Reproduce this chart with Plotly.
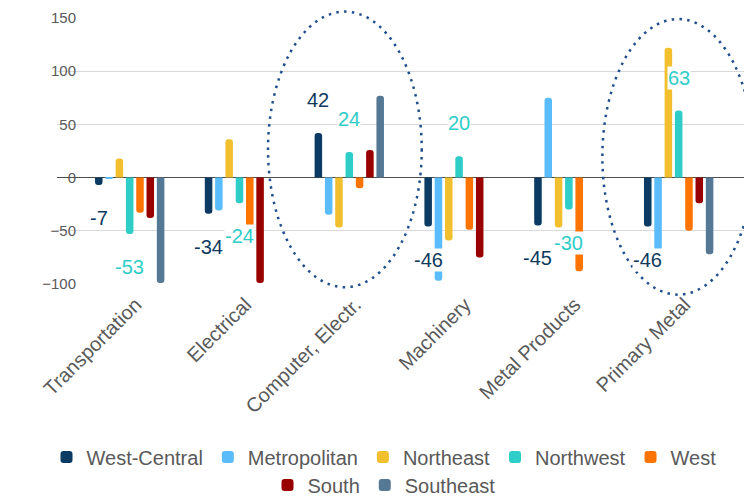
import plotly.graph_objects as go

# ---- data -------------------------------------------------------------
categories = ["Transportation", "Electrical", "Computer, Electr.",
              "Machinery", "Metal Products", "Primary Metal"]
regions = ["West-Central", "Metropolitan", "Northeast", "Northwest",
           "West", "South", "Southeast"]

west_central = [-7, -34, 42, -46, -45, -46]
metropolitan = [-1, -31, -35, -97, 75, -68]
northeast = [18, 36, -47, -59, -47, 122]
northwest = [-53, -24, 24, 20, -30, 63]
west = [-33, -62, -10, -49, -88, -50]
south = [-38, -99, 26, -75, None, -24]
southeast = [-99, None, 77, None, None, -72]

series = [west_central, metropolitan, northeast, northwest, west, south, southeast]

y_ticks = [-100, -50, 0, 50, 100, 150]

# series whose values are written next to the bars
labelled = ["West-Central", "Northwest"]
# categories circled with a dotted ellipse
highlighted = ["Computer, Electr.", "Primary Metal"]

# ---- styling ----------------------------------------------------------
colors = ["#0b3a62", "#5bbcfb", "#f2c02f", "#2ecdc8", "#ff7300", "#990000", "#557894"]
label_colors = {"West-Central": "#0e3a5e", "Northwest": "#2ecdc8"}
grey_text = "#595959"
font_family = "Liberation Sans, Arial, sans-serif"

W, H = 744, 496
margin = dict(l=57, r=0, t=18, b=212)
x_range = [-0.662, 5.595]
y_range = [-100, 150]
bargap = 0.343
bargroupgap = 0.27

# ellipse geometry: centre offset / half width in category units, extent in value units
ellipse_spec = {
    "Computer, Electr.": dict(dx=-0.04, half=0.70, top=156, bottom=-103),
    "Primary Metal": dict(dx=-0.005, half=0.69, top=149, bottom=-110),
}


def x_paper(v):
    return (v - x_range[0]) / (x_range[1] - x_range[0])


def y_paper(v):
    return (v - y_range[0]) / (y_range[1] - y_range[0])


fig = go.Figure()

for k, (name, vals, col) in enumerate(zip(regions, series, colors)):
    fig.add_trace(go.Bar(
        x=categories, y=vals, name=name,
        marker=dict(color=col, cornerradius=4, line=dict(width=0)),
        legend="legend" if k < 5 else "legend2",
        hoverinfo="skip",
    ))

# value labels, placed on their own bar inside each group
n = len(regions)
slot = (1 - bargap) / n
annotations = []
for name in labelled:
    k = regions.index(name)
    vals = series[k]
    for i, v in enumerate(vals):
        if v is None:
            continue
        annotations.append(dict(
            x=i + (k - (n - 1) / 2) * slot, y=v, xref="x", yref="y",
            text=str(v), showarrow=False,
            yshift=33 if v > 0 else -33,
            font=dict(size=20, color=label_colors[name], family=font_family),
            bgcolor="white", borderpad=0,
        ))

shapes = []
for cat in highlighted:
    spec = ellipse_spec[cat]
    c = categories.index(cat) + spec["dx"]
    shapes.append(dict(
        type="circle", xref="paper", yref="paper",
        x0=x_paper(c - spec["half"]), x1=x_paper(c + spec["half"]),
        y0=y_paper(spec["bottom"]), y1=y_paper(spec["top"]),
        line=dict(color="#1f4e8c", width=2.5, dash="2.5px,5.3px"),
        fillcolor="rgba(0,0,0,0)",
    ))

# two centred legend rows, positioned in container coordinates
legend_common = dict(
    orientation="h", xanchor="center", yanchor="middle",
    xref="container", yref="container",
    font=dict(size=20, color=grey_text, family=font_family),
    bgcolor="rgba(0,0,0,0)", traceorder="normal",
)
legend_x = 384 / W
row1_y = 1 - 457 / H
row2_y = 1 - 485 / H

fig.update_layout(
    width=W, height=H, margin=margin,
    paper_bgcolor="white", plot_bgcolor="white",
    barmode="group", bargap=bargap, bargroupgap=bargroupgap,
    font=dict(family=font_family, color=grey_text),
    xaxis=dict(
        range=x_range, showgrid=False, showline=False, zeroline=False,
        tickangle=-45, tickfont=dict(size=20, color=grey_text),
        ticks="", ticklabelstandoff=4, ticklabelshift=6, automargin=False,
    ),
    yaxis=dict(
        range=y_range, tickvals=y_ticks, showgrid=True, gridcolor="#d9d9d9",
        gridwidth=1, zeroline=True, zerolinecolor="#4d4d4d", zerolinewidth=1,
        showline=False, ticks="", tickfont=dict(size=15, color=grey_text),
        ticklabelstandoff=-20, automargin=False,
    ),
    legend=dict(x=legend_x, y=row1_y, **legend_common),
    legend2=dict(x=legend_x, y=row2_y, **legend_common),
    annotations=annotations,
    shapes=shapes,
    showlegend=True,
)

fig.write_html("out.html")
